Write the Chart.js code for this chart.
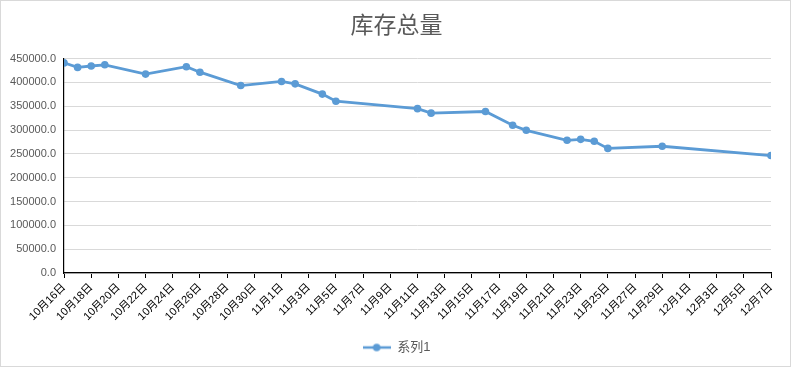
<!DOCTYPE html>
<html lang="zh">
<head>
  <meta charset="UTF-8" />
  <title>库存总量</title>
  <script src="https://cdn.jsdelivr.net/npm/chart.js"></script>
  <style>
    html, body { margin: 0; padding: 0; background: #fff; }
    #wrap { position: relative; width: 793px; height: 368px; }
    #frame {
      position: absolute; left: 0; top: 0; width: 791px; height: 367px;
      box-sizing: border-box; border: 1px solid #d9d9d9; pointer-events: none;
    }
    canvas { position: absolute; left: 0; top: 0; }
  </style>
</head>
<body>
<div id="wrap">
  <canvas id="stockChart" width="793" height="368"></canvas>
  <div id="frame"></div>
</div>

<script>
  // 数据
  const dates = ['10/16','10/17','10/18','10/19','10/22','10/25','10/26','10/29','11/1','11/2','11/4','11/5',
                 '11/11','11/12','11/16','11/18','11/19','11/22','11/23','11/24','11/25','11/29','12/7'];
  const values = [441000, 431500, 434500, 437000, 417500, 433000, 421500, 393500, 402000, 397000, 375500, 360500,
                  345000, 335500, 339000, 310000, 299500, 278500, 280500, 276500, 261500, 266000, 246500];
  const xTickLabels = ['10月16日','10月18日','10月20日','10月22日','10月24日','10月26日','10月28日','10月30日',
                       '11月1日','11月3日','11月5日','11月7日','11月9日','11月11日','11月13日','11月15日',
                       '11月17日','11月19日','11月21日','11月23日','11月25日','11月27日','11月29日',
                       '12月1日','12月3日','12月5日','12月7日'];
  const yTicks = [0, 50000, 100000, 150000, 200000, 250000, 300000, 350000, 400000, 450000];

  const blue = '#5B9BD5';
  const grey = '#595959';
  const fontFam = "'Liberation Sans', 'Noto Sans CJK SC', sans-serif";

  // 日期 -> 距 10/16 的天数
  const toDay = s => {
    const [m, d] = s.split('/').map(Number);
    return Math.round((Date.UTC(2000, m - 1, d) - Date.UTC(2000, 9, 16)) / 86400000);
  };
  const points = dates.map((d, i) => ({ x: toDay(d), y: values[i] }));

  // 图例图标：线 + 圆点
  const legendIcon = document.createElement('canvas');
  legendIcon.width = 28; legendIcon.height = 10;
  const ic = legendIcon.getContext('2d');
  ic.strokeStyle = blue; ic.lineWidth = 2.5;
  ic.beginPath(); ic.moveTo(0, 5); ic.lineTo(28, 5); ic.stroke();
  ic.fillStyle = blue;
  ic.beginPath(); ic.arc(14, 5, 3.8, 0, Math.PI * 2); ic.fill();

  new Chart(document.getElementById('stockChart'), {
    type: 'line',
    data: {
      datasets: [{
        label: '系列1',
        data: points,
        borderColor: blue,
        backgroundColor: blue,
        borderWidth: 2.8,
        pointRadius: 3.8,
        pointBackgroundColor: blue,
        pointBorderWidth: 0,
        tension: 0
      }]
    },
    options: {
      responsive: false,
      animation: false,
      layout: { padding: { left: 0, right: 0, top: 0, bottom: 4 } },
      plugins: {
        title: {
          display: true,
          text: '库存总量',
          color: grey,
          font: { family: "'Noto Sans CJK SC', sans-serif", size: 23, weight: 'normal' },
          padding: { top: 10, bottom: 21 }
        },
        legend: {
          position: 'bottom',
          labels: {
            color: grey,
            font: { family: fontFam, size: 13 },
            usePointStyle: true,
            pointStyleWidth: 28,
            generateLabels: chart => [{
              text: '系列1', fontColor: grey, pointStyle: legendIcon,
              datasetIndex: 0, lineWidth: 0, strokeStyle: blue, fillStyle: blue
            }]
          }
        },
        tooltip: { enabled: false }
      },
      scales: {
        x: {
          type: 'linear',
          min: 0,
          max: 52,
          afterFit: s => { s.height = 58; },
          afterBuildTicks: s => { s.ticks = xTickLabels.map((_, i) => ({ value: i * 2 })); },
          ticks: {
            autoSkip: false,
            maxRotation: 45,
            minRotation: 45,
            color: '#000',
            font: { family: fontFam, size: 11 },
            padding: 3,
            callback: v => xTickLabels[v / 2]
          },
          grid: { drawOnChartArea: false, color: '#000', tickLength: 5 },
          border: { color: '#000', width: 1.2 }
        },
        y: {
          min: 0,
          max: 450000,
          afterFit: s => { s.width = 64; },
          afterBuildTicks: s => { s.ticks = yTicks.map(v => ({ value: v })); },
          ticks: {
            color: grey,
            font: { family: fontFam, size: 11 },
            padding: 8,
            callback: v => v.toFixed(1)
          },
          grid: { color: '#d9d9d9', drawTicks: false },
          border: { color: '#000', width: 1.2 }
        },
        // 右侧留白
        yRight: {
          position: 'right',
          min: 0,
          max: 1,
          afterFit: s => { s.width = 22; },
          ticks: { display: false },
          grid: { display: false },
          border: { display: false }
        }
      }
    }
  });
</script>
</body>
</html>
